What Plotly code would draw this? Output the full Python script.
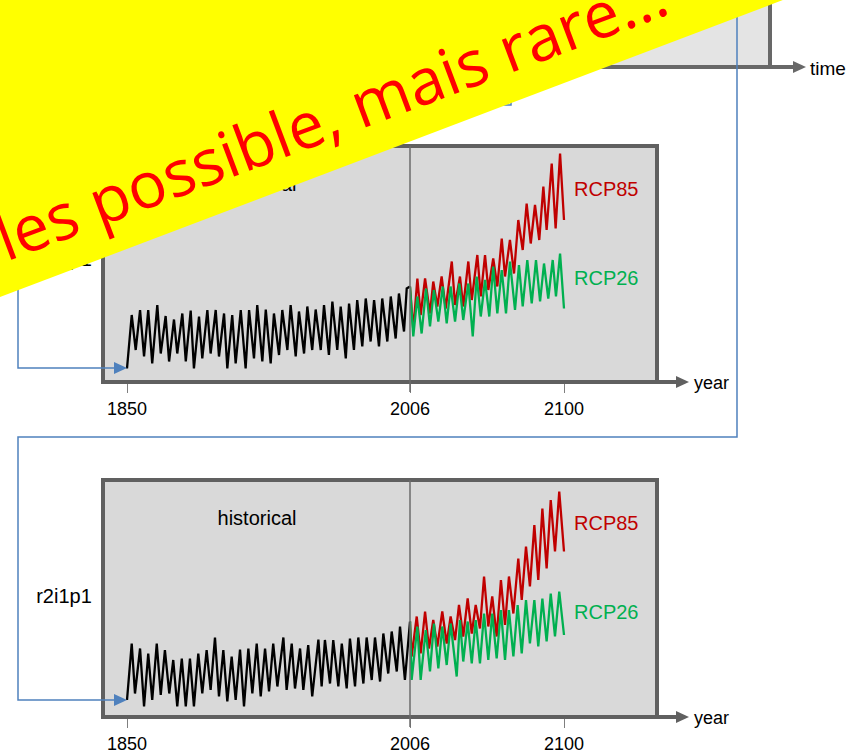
import plotly.graph_objects as go

# ---------------------------------------------------------------- data
# Ensemble member r1i1p1 : historical run and its two scenario continuations
hist1_year = [1850, 1852.6, 1854.8, 1857.2, 1859.4, 1861.7, 1863.9, 1866.7, 1868.6, 1871.3,
              1873.2, 1875.9, 1877.7, 1880.5, 1882.4, 1885.1, 1886.9, 1889.7, 1891.5, 1894.3,
              1896.1, 1898.9, 1900.7, 1903.5, 1905.3, 1908.0, 1909.9, 1912.7, 1915.4, 1917.3,
              1920.0, 1921.8, 1924.6, 1926.5, 1929.2, 1931.0, 1933.8, 1935.6, 1938.4, 1940.2,
              1943.0, 1944.8, 1947.6, 1949.4, 1952.1, 1954.0, 1956.8, 1958.6, 1961.3, 1963.2,
              1965.9, 1967.8, 1970.6, 1972.4, 1975.1, 1976.9, 1979.7, 1981.6, 1984.3, 1986.2,
              1988.9, 1990.7, 1993.5, 1995.4, 1998.1, 1999.9, 2002.7, 2004.2, 2006]
hist1_val = [0.27, 1.34, 0.64, 1.44, 0.51, 1.44, 0.37, 1.54, 0.57, 1.32,
             0.41, 1.25, 0.57, 1.37, 0.41, 1.43, 0.27, 1.31, 0.47, 1.44,
             0.57, 1.44, 0.51, 1.37, 0.27, 1.34, 0.37, 1.44, 0.27, 1.44,
             0.47, 1.54, 0.41, 1.45, 0.37, 1.37, 0.54, 1.44, 0.64, 1.54,
             0.51, 1.41, 0.57, 1.51, 0.64, 1.45, 0.64, 1.54, 0.54, 1.61,
             0.64, 1.51, 0.47, 1.57, 0.64, 1.64, 0.71, 1.67, 0.81, 1.64,
             0.71, 1.67, 0.81, 1.71, 0.87, 1.77, 1.01, 1.87, 1.91]

rcp85_1_year = [2006, 2008.0, 2010.5, 2012.5, 2015.2, 2018.2, 2020.2, 2022.7, 2025.3, 2027.8,
                2031.5, 2033.5, 2036.5, 2038.5, 2041.6, 2043.7, 2047.1, 2049.2, 2051.8, 2053.8,
                2056.8, 2059.3, 2062.0, 2064.0, 2067.0, 2069.5, 2072.1, 2074.8, 2077.2, 2079.7,
                2082.3, 2084.9, 2087.4, 2089.4, 2092.5, 2094.9, 2097.6, 2100]
rcp85_1_val = [1.91, 1.04, 2.07, 1.34, 2.07, 1.37, 2.01, 1.51, 2.11, 1.47,
               2.41, 1.54, 2.11, 1.51, 2.41, 1.64, 2.54, 1.71, 2.54, 1.84,
               2.47, 1.91, 2.87, 2.11, 2.84, 2.17, 3.24, 2.64, 3.57, 2.77,
               3.54, 2.84, 3.91, 3.04, 4.37, 3.07, 4.57, 3.24]

rcp26_1_year = [2006, 2008.0, 2010.5, 2013.1, 2015.8, 2018.2, 2020.6, 2023.3, 2026.0, 2028.4,
                2030.8, 2033.5, 2036.1, 2038.5, 2041.6, 2044.3, 2046.7, 2049.2, 2051.8, 2054.4,
                2056.8, 2059.3, 2062.0, 2064.6, 2067.0, 2070.1, 2072.5, 2074.8, 2077.6, 2080.3,
                2082.9, 2085.4, 2087.8, 2090.4, 2093.1, 2095.1, 2097.6, 2100]
rcp26_1_val = [1.91, 0.91, 1.71, 0.97, 1.87, 1.11, 1.84, 1.21, 1.91, 1.17,
               1.91, 1.21, 1.97, 1.24, 1.97, 0.91, 2.11, 1.31, 2.04, 1.31,
               2.31, 1.37, 2.24, 1.37, 2.41, 1.44, 2.34, 1.51, 2.44, 1.57,
               2.44, 1.61, 2.37, 1.67, 2.44, 1.71, 2.57, 1.47]

# Ensemble member r2i1p1
hist2_year = [1850, 1852.6, 1854.4, 1857.2, 1859.4, 1861.7, 1863.9, 1866.4, 1868.6, 1870.9,
              1873.3, 1875.5, 1877.7, 1880.2, 1882.4, 1884.7, 1886.9, 1889.3, 1891.5, 1893.9,
              1896.1, 1898.5, 1900.7, 1903.1, 1905.3, 1907.7, 1909.9, 1912.3, 1914.5, 1916.9,
              1919.1, 1921.5, 1923.7, 1926.1, 1928.3, 1930.6, 1932.9, 1936.2, 1938.0, 1940.8,
              1942.6, 1945.4, 1947.2, 1949.9, 1952.1, 1955.5, 1957.3, 1959.1, 1961.9, 1963.7,
              1966.5, 1968.4, 1971.1, 1972.9, 1975.7, 1977.5, 1980.3, 1982.1, 1984.9, 1986.7,
              1989.5, 1991.3, 1994.0, 1995.9, 1998.7, 2000.5, 2003.2, 2006]
hist2_val = [0.34, 1.47, 0.47, 1.37, 0.21, 1.27, 0.34, 1.47, 0.44, 1.34,
             0.47, 1.14, 0.21, 1.17, 0.21, 1.17, 0.21, 1.27, 0.47, 1.34,
             0.54, 1.59, 0.41, 1.34, 0.31, 1.21, 0.34, 1.35, 0.21, 1.37,
             0.47, 1.47, 0.41, 1.37, 0.51, 1.47, 0.61, 1.59, 0.54, 1.47,
             0.57, 1.37, 0.54, 1.44, 0.41, 1.55, 0.61, 1.54, 0.67, 1.54,
             0.61, 1.47, 0.57, 1.57, 0.61, 1.59, 0.67, 1.59, 0.74, 1.59,
             0.71, 1.67, 0.87, 1.71, 0.91, 1.81, 0.74, 1.91]

rcp85_2_year = [2006, 2007.0, 2010.1, 2012.5, 2015.2, 2017.6, 2020.2, 2022.7, 2025.7, 2028.4,
                2030.8, 2033.5, 2035.9, 2038.5, 2041.2, 2043.7, 2046.1, 2048.7, 2051.2, 2053.8,
                2056.2, 2058.9, 2061.5, 2064.0, 2066.4, 2069.1, 2072.1, 2074.2, 2076.8, 2079.2,
                2081.9, 2084.3, 2086.8, 2089.4, 2091.9, 2094.5, 2097.1, 2100]
rcp85_2_val = [1.91, 1.21, 2.01, 1.27, 2.11, 1.37, 1.94, 1.41, 2.11, 1.47,
               2.01, 1.54, 2.24, 1.61, 2.37, 1.67, 2.24, 1.77, 2.81, 1.81,
               2.41, 1.61, 2.74, 1.84, 2.81, 2.07, 3.17, 2.34, 3.41, 2.61,
               3.84, 2.74, 4.17, 2.97, 4.34, 3.31, 4.51, 3.31]

rcp26_2_year = [2006, 2007.0, 2010.5, 2012.5, 2015.6, 2018.2, 2020.6, 2023.3, 2025.7, 2028.4,
                2030.8, 2034.5, 2036.5, 2038.5, 2041.2, 2043.7, 2046.1, 2048.7, 2051.2, 2053.8,
                2056.2, 2058.9, 2061.5, 2064.0, 2066.4, 2069.1, 2071.7, 2074.2, 2076.8, 2079.2,
                2081.9, 2084.3, 2086.8, 2089.4, 2091.9, 2094.5, 2097.1, 2100]
rcp26_2_val = [1.91, 0.74, 1.81, 0.74, 1.74, 0.91, 1.87, 0.97, 1.81, 1.04,
               1.87, 0.81, 1.94, 1.11, 1.91, 1.07, 1.94, 1.07, 2.07, 1.14,
               2.07, 1.17, 2.14, 1.14, 2.14, 1.21, 2.24, 1.27, 2.34, 1.47,
               2.34, 1.41, 2.37, 1.51, 2.47, 1.61, 2.51, 1.64]

hist_ticks = [1850, 2006]
scen_ticks = [2100]
members = ["r1i1p1", "r2i1p1"]
scenario_names = ["RCP85", "RCP26"]
banner_text = "les possible, mais rare..."

# ---------------------------------------------------------------- page geometry
W, H = 852, 752
FONT = "Liberation Sans, Arial, sans-serif"
RED, GREEN, BLUE = "#c00000", "#00b050", "#4f81bd"
FRAME = "#606060"
LINE_W = 2.3


def X(p):
    return p / W


def Y(p):
    return 1 - p / H


def path(points, close=False):
    s = "M " + " L ".join(f"{X(a):.5f},{Y(b):.5f}" for a, b in points)
    return s + (" Z" if close else "")


# screen positions of each panel: box edges and the three year marks
panels = [
    dict(top=146, bottom=382, left=103, right=657, x1850=127, x2006=410, x2100=564,
         cap_dy=115,
         hist=(hist1_year, hist1_val), r85=(rcp85_1_year, rcp85_1_val),
         r26=(rcp26_1_year, rcp26_1_val)),
    dict(top=480, bottom=717, left=103, right=657, x1850=127, x2006=410, x2100=564,
         cap_dy=118,
         hist=(hist2_year, hist2_val), r85=(rcp85_2_year, rcp85_2_val),
         r26=(rcp26_2_year, rcp26_2_val)),
]
PX_PER_UNIT = 50.0

fig = go.Figure()
layout = dict(
    template="none",
    width=W, height=H, autosize=False,
    margin=dict(l=0, r=0, t=0, b=0, pad=0, autoexpand=False),
    paper_bgcolor="white", plot_bgcolor="rgba(0,0,0,0)",
    showlegend=False,
)
shapes = []
annotations = []


def label(text, x, y, size, color, xanchor="center"):
    return dict(text=text, x=X(x), y=Y(y), xref="paper", yref="paper",
                xanchor=xanchor, yanchor="middle", showarrow=False,
                font=dict(family=FONT, size=size, color=color))


tickfont = dict(family=FONT, size=18, color="black")
common_x = dict(showgrid=False, zeroline=False, showline=False, ticks="outside",
                ticklen=10, tickwidth=1, tickcolor="#7f7f7f", tickfont=tickfont,
                tickmode="array", ticklabelstandoff=0, fixedrange=True, automargin=False)

for i, p in enumerate(panels):
    xh, xs, yk = 2 * i + 1, 2 * i + 2, i + 1
    xh_id = "x" if xh == 1 else f"x{xh}"
    xs_id = f"x{xs}"
    y_id = "y" if yk == 1 else f"y{yk}"

    # historical part: 1850..2006, scenario part: 2006..2100 (own scale)
    sh = (p["x2006"] - p["x1850"]) / (2006 - 1850)
    ss = (p["x2100"] - p["x2006"]) / (2100 - 2006)
    h_left, h_right = p["left"], p["x2006"] + 3
    layout["xaxis" if xh == 1 else f"xaxis{xh}"] = dict(
        common_x, domain=[X(h_left), X(h_right)], anchor=y_id,
        range=[1850 - (p["x1850"] - h_left) / sh, 2006 + (h_right - p["x2006"]) / sh],
        tickvals=hist_ticks, ticktext=[str(v) for v in hist_ticks])
    layout[f"xaxis{xs}"] = dict(
        common_x, domain=[X(p["x2006"]), X(p["right"])], anchor=y_id,
        range=[2006, 2100 + (p["right"] - p["x2100"]) / ss],
        tickvals=scen_ticks, ticktext=[str(v) for v in scen_ticks])
    layout["yaxis" if yk == 1 else f"yaxis{yk}"] = dict(
        domain=[Y(p["bottom"]), Y(p["top"])], anchor=xh_id, visible=False,
        range=[0, (p["bottom"] - p["top"]) / PX_PER_UNIT], fixedrange=True,
        automargin=False)

    fig.add_trace(go.Scatter(x=p["hist"][0], y=p["hist"][1], mode="lines",
                             line=dict(color="black", width=LINE_W), xaxis=xh_id, yaxis=y_id,
                             hoverinfo="skip"))
    fig.add_trace(go.Scatter(x=p["r85"][0], y=p["r85"][1], mode="lines",
                             line=dict(color=RED, width=LINE_W), xaxis=xs_id, yaxis=y_id,
                             hoverinfo="skip"))
    fig.add_trace(go.Scatter(x=p["r26"][0], y=p["r26"][1], mode="lines",
                             line=dict(color=GREEN, width=LINE_W), xaxis=xs_id, yaxis=y_id,
                             hoverinfo="skip"))

    # panel background and frame
    shapes.append(dict(type="rect", xref="paper", yref="paper", layer="below",
                       x0=X(p["left"]), x1=X(p["right"]), y0=Y(p["bottom"]), y1=Y(p["top"]),
                       fillcolor="#d9d9d9", line=dict(width=0)))
    shapes.append(dict(type="rect", xref="paper", yref="paper", layer="above",
                       x0=X(p["left"]), x1=X(p["right"]), y0=Y(p["bottom"]), y1=Y(p["top"]),
                       fillcolor="rgba(0,0,0,0)", line=dict(color=FRAME, width=4)))
    # 2006 divider
    shapes.append(dict(type="line", xref=xh_id, yref="paper", layer="above",
                       x0=2006, x1=2006, y0=Y(p["bottom"] + 10), y1=Y(p["top"]),
                       line=dict(color="#6b6b6b", width=1.5)))
    # time axis arrow
    b = p["bottom"]
    shapes.append(dict(type="path", xref="paper", yref="paper", layer="above",
                       path=path([(p["right"], b), (678, b)]),
                       line=dict(color=FRAME, width=4)))
    shapes.append(dict(type="path", xref="paper", yref="paper", layer="above",
                       path=path([(676, b - 6), (689, b), (676, b + 6)], close=True),
                       fillcolor=FRAME, line=dict(width=0)))
    annotations.append(label("year", 692, b + 1, 18, "black", xanchor="left"))
    annotations.append(label(scenario_names[0], 606, p["top"] + 43, 20, RED))
    annotations.append(label(scenario_names[1], 606, p["top"] + 132, 20, GREEN))

# full-page overlay for panel captions (kept beneath the banner)
layout["xaxis5"] = dict(domain=[0, 1], range=[0, W], visible=False, anchor="y3",
                        fixedrange=True, automargin=False)
layout["yaxis3"] = dict(domain=[0, 1], range=[H, 0], visible=False, anchor="x5",
                        fixedrange=True, automargin=False)
fig.add_trace(go.Scatter(
    x=[257, 64, 257, 64],
    y=[panels[0]["top"] + 40, panels[0]["top"] + panels[0]["cap_dy"],
       panels[1]["top"] + 40, panels[1]["top"] + panels[1]["cap_dy"]],
    text=["historical", members[0], "historical", members[1]],
    mode="text", textposition="middle center",
    textfont=dict(family=FONT, size=20, color="black"),
    xaxis="x5", yaxis="y3", hoverinfo="skip"))

# partially visible upper panel
shapes.append(dict(type="rect", xref="paper", yref="paper", layer="below",
                   x0=X(103), x1=X(770), y0=Y(67), y1=Y(-20),
                   fillcolor="#e4e4e4", line=dict(width=0)))
shapes.append(dict(type="path", xref="paper", yref="paper", layer="above",
                   path=path([(770, -20), (770, 67), (103, 67)]),
                   line=dict(color="#686868", width=4)))
shapes.append(dict(type="path", xref="paper", yref="paper", layer="above",
                   path=path([(770, 67), (794, 67)]), line=dict(color="#686868", width=4)))
shapes.append(dict(type="path", xref="paper", yref="paper", layer="above",
                   path=path([(793, 61), (806, 67), (793, 73)], close=True),
                   fillcolor="#686868", line=dict(width=0)))
annotations.append(label("time", 808, 68, 19, "black", xanchor="left"))

# blue connectors feeding each member's start year
for pts, tip_y in [([(511, 67), (511, 105), (18, 105), (18, 368), (116, 368)], 368),
                   ([(737, -20), (737, 437), (18, 437), (18, 700), (116, 700)], 700)]:
    shapes.append(dict(type="path", xref="paper", yref="paper", layer="above",
                       path=path(pts), line=dict(color=BLUE, width=1.5)))
    shapes.append(dict(type="path", xref="paper", yref="paper", layer="above",
                       path=path([(114, tip_y - 6), (127, tip_y), (114, tip_y + 6)], close=True),
                       fillcolor=BLUE, line=dict(width=0)))

# yellow banner across the upper-left corner
shapes.append(dict(type="path", xref="paper", yref="paper", layer="above",
                   path=path([(-5, -5), (796, -5), (-5, 299)], close=True),
                   fillcolor="#ffff00", line=dict(width=0)))
annotations.append(dict(text=banner_text, x=X(330), y=Y(114), xref="paper", yref="paper",
                        xanchor="center", yanchor="middle", showarrow=False, textangle=-20.5,
                        font=dict(family="Open Sans", size=64, color="#ff0000")))

layout["shapes"] = shapes
layout["annotations"] = annotations
fig.update_layout(**layout)
fig.write_html("out.html", config={"displayModeBar": False, "responsive": False})
